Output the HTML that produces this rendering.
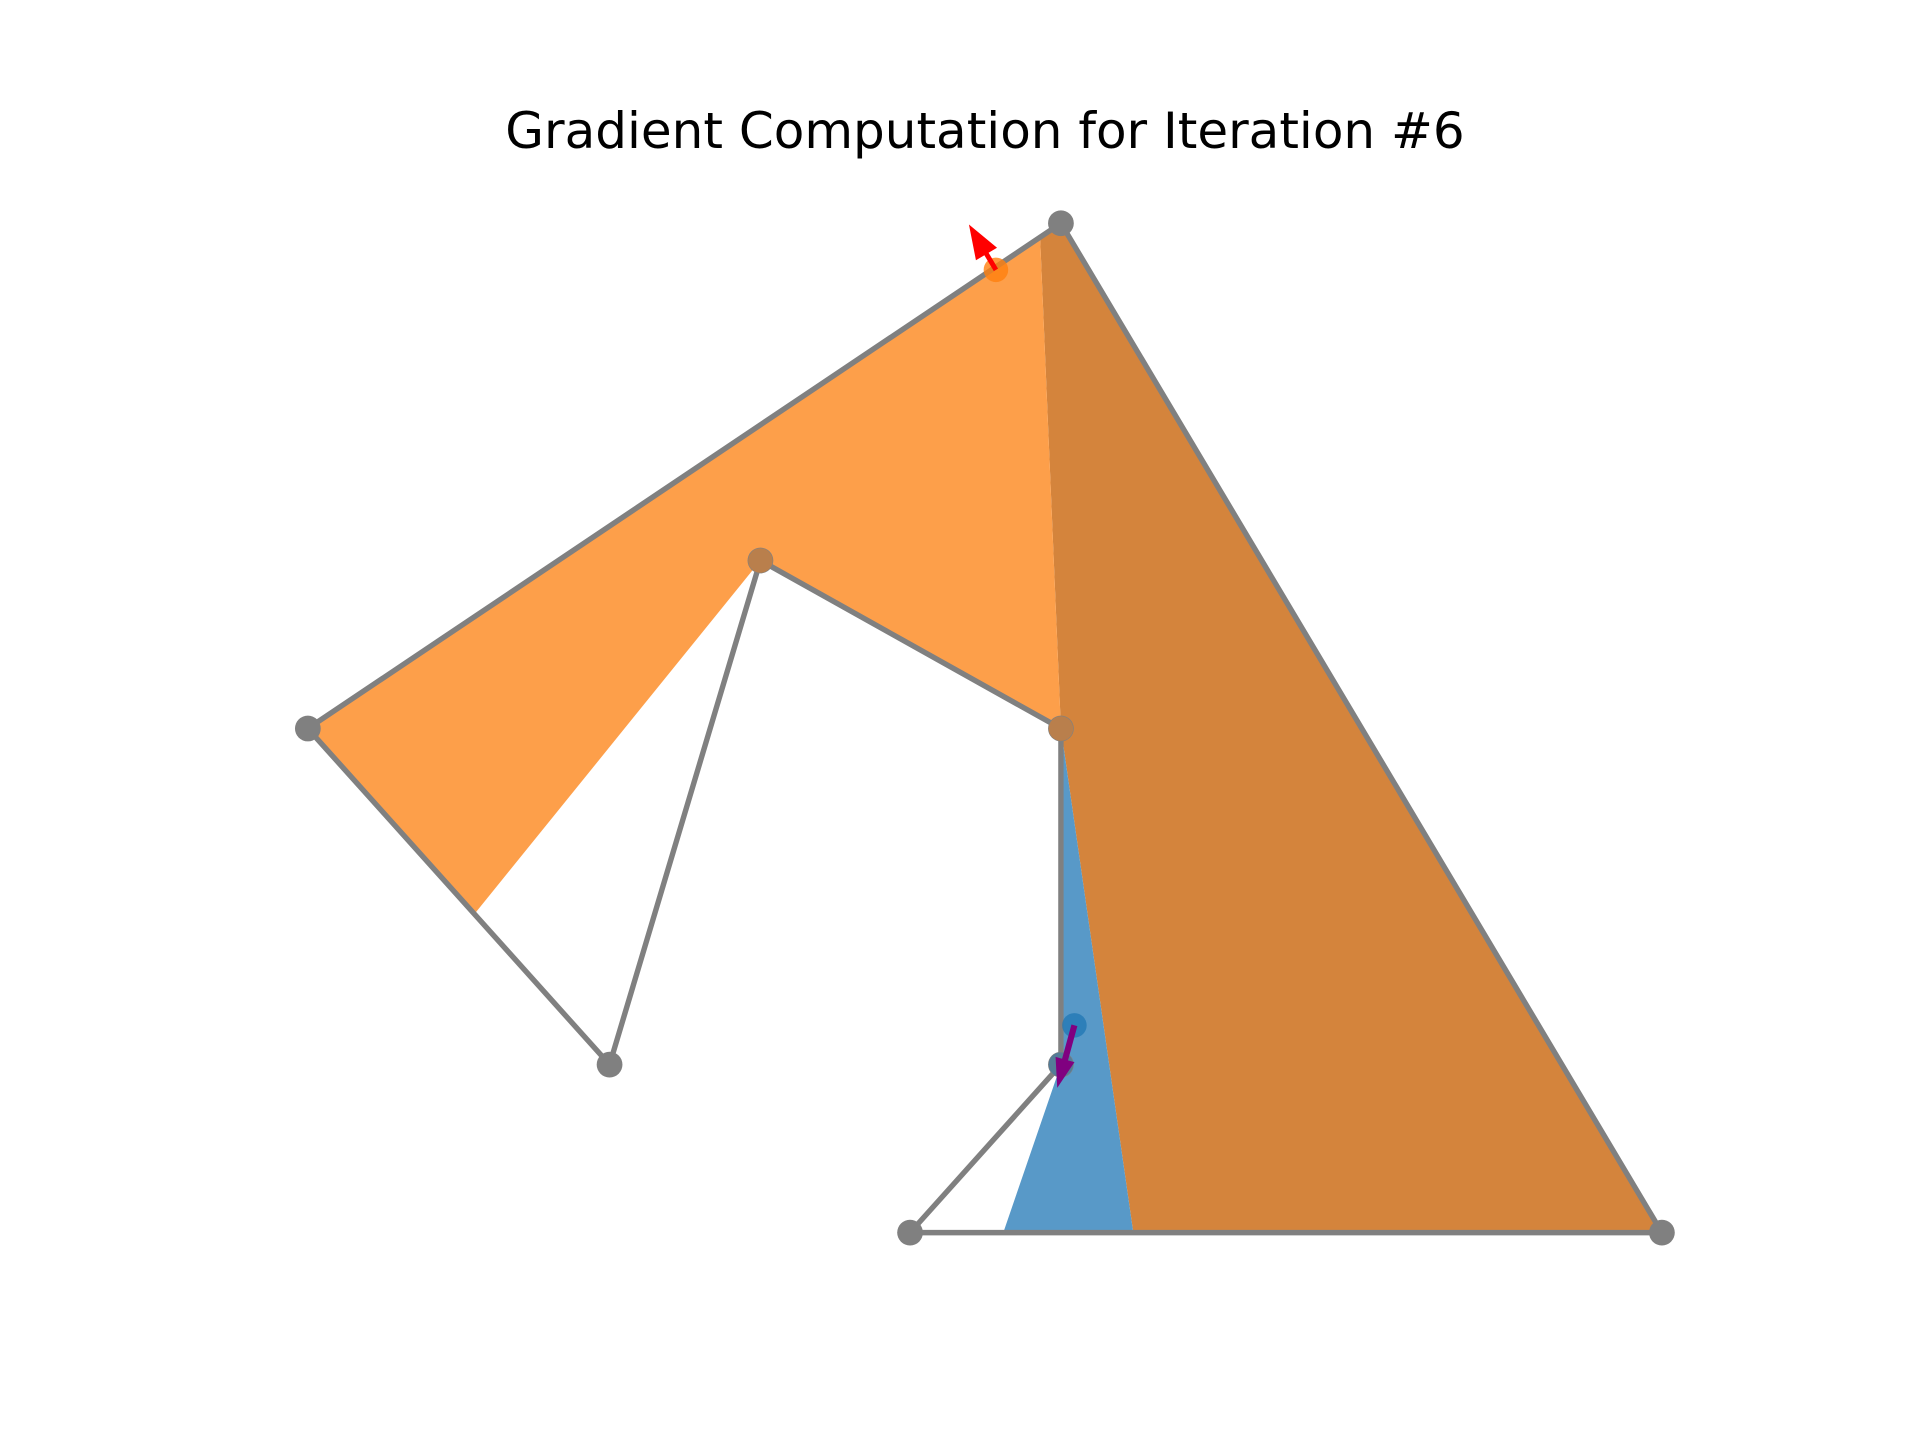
<!DOCTYPE html>
<html><head><meta charset="utf-8"><style>
html,body{margin:0;padding:0;background:#fff;}
svg{display:block;}
</style></head>
<body>
<svg id="chart" width="1920" height="1440" viewBox="0 0 1920 1440" xmlns="http://www.w3.org/2000/svg">
<rect width="1920" height="1440" fill="#fff"/>
<text x="985" y="148" text-anchor="middle" font-family="DejaVu Sans, Liberation Sans, sans-serif" font-size="50" fill="#000">Gradient Computation for Iteration #6</text>
<g id="plot" transform="scale(1.2265)"></g>
</svg>
<script>
const nodeNames = ['A','L','P','Q','B','C','D','E'];
const nodeX = [865, 251, 620, 865, 497, 865, 742, 1355];
const nodeY = [182, 594, 457, 594, 868, 868, 1005, 1005];
const edges = [['A','L'],['L','B'],['B','P'],['P','Q'],['Q','C'],['C','D'],['D','E'],['E','A']];
const lightOrange = [[251,594],[848,193],[865,594],[620,457],[387,745]];
const darkOrange = [[848,193],[865,182],[1355,1005],[924,1005],[865,594]];
const bluePoly = [[865,594],[924,1005],[818,1005],[865,868]];
const orangePts = [[812,220],[620,457],[865,594]];
const bluePts = [[876,836],[865,868]];
const redFrom = [812,220];
const redTip = [790,183];
const purpleFrom = [876,836];
const purpleTip = [862,887];

const ns = 'http://www.w3.org/2000/svg';
const g = document.getElementById('plot');
function mk(tag, attrs){const e=document.createElementNS(ns,tag);for(const k in attrs)e.setAttribute(k,attrs[k]);g.appendChild(e);return e;}
function pt(n){const i=nodeNames.indexOf(n);return [nodeX[i],nodeY[i]];}

let e;
e = mk('polygon',{points:darkOrange.map(p=>p.join(',')).join(' '),fill:'#d4843c'});


e = mk('polygon',{points:lightOrange.map(p=>p.join(',')).join(' '),fill:'#fd9f4a'});


e = mk('polygon',{points:bluePoly.map(p=>p.join(',')).join(' '),fill:'#5899c8'});



edges.forEach(([a,b])=>{
  const p=pt(a),q=pt(b);
  const l=mk('line',{x1:p[0],y1:p[1],x2:q[0],y2:q[1],stroke:'#808080','stroke-width':4.4,'stroke-linecap':'round'});
  
  
});
nodeNames.forEach((n,i)=>{
  const c=mk('circle',{cx:nodeX[i],cy:nodeY[i],r:10.5,fill:'#808080'});
  
  
});
orangePts.forEach(p=>{
  const c=mk('circle',{cx:p[0],cy:p[1],r:10,fill:'#ff7f0e','fill-opacity':p===orangePts[0]?0.8:0.45});
  
  
});
bluePts.forEach(p=>{
  const c=mk('circle',{cx:p[0],cy:p[1],r:10,fill:'#1f77b4','fill-opacity':p===bluePts[0]?0.75:0.45});
  
  
});

function arrow(from,to,color,w,hw,hl,name){
  const dx=to[0]-from[0],dy=to[1]-from[1],L=Math.hypot(dx,dy),ux=dx/L,uy=dy/L,px=-uy,py=ux;
  const bx=to[0]-ux*hl,by=to[1]-uy*hl;
  const pts=[[from[0]+px*w/2,from[1]+py*w/2],[bx+px*w/2,by+py*w/2],[bx+px*hw/2,by+py*hw/2],to,[bx-px*hw/2,by-py*hw/2],[bx-px*w/2,by-py*w/2],[from[0]-px*w/2,from[1]-py*w/2]];
  const a=mk('polygon',{points:pts.map(p=>p.join(',')).join(' '),fill:color});
  
  
}
arrow(redFrom,redTip,'#ff0000',4,20,28,'red-gradient-arrow');
arrow(purpleFrom,purpleTip,'#800080',5,16,24,'purple-gradient-arrow');
</script>
</body></html>
